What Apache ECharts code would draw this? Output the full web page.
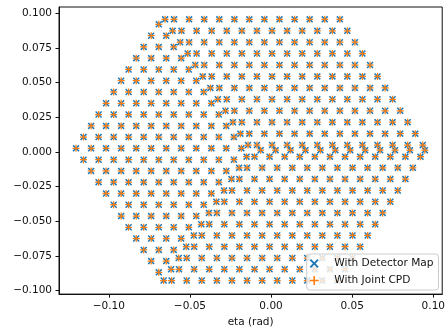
<!DOCTYPE html>
<html><head><meta charset="utf-8">
<script src="https://cdn.jsdelivr.net/npm/echarts@6/dist/echarts.min.js"></script>
<style>html,body{margin:0;padding:0;background:#fff}#c{width:448px;height:333px}</style>
</head><body><div id="c"></div>
<script>
const xTicks = [-0.10, -0.05, 0.00, 0.05, 0.10];
const yTicks = [-0.100, -0.075, -0.050, -0.025, 0.000, 0.025, 0.050, 0.075, 0.100];

// Upper sector (rows read top to bottom)
const upperY = [0.0957, 0.0874, 0.0792, 0.0710, 0.0627, 0.0545, 0.0462, 0.0380, 0.0297, 0.0215, 0.0132, 0.0050];
const upperX = [
 [-0.0598,-0.0505,-0.0412,-0.0319,-0.0226,-0.0134,-0.0041,0.0052,0.0145,0.0238,0.0331,0.0424],
 [-0.0552,-0.0459,-0.0366,-0.0273,-0.0180,-0.0087,0.0006,0.0099,0.0192,0.0285,0.0378,0.0470],
 [-0.0505,-0.0412,-0.0319,-0.0226,-0.0134,-0.0041,0.0052,0.0145,0.0238,0.0331,0.0424,0.0517],
 [-0.0459,-0.0366,-0.0273,-0.0180,-0.0087,0.0006,0.0099,0.0192,0.0285,0.0378,0.0470,0.0563],
 [-0.0412,-0.0319,-0.0226,-0.0134,-0.0041,0.0052,0.0145,0.0238,0.0331,0.0424,0.0517,0.0610],
 [-0.0366,-0.0273,-0.0180,-0.0087,0.0006,0.0099,0.0192,0.0285,0.0378,0.0470,0.0563,0.0656],
 [-0.0319,-0.0226,-0.0134,-0.0041,0.0052,0.0145,0.0238,0.0331,0.0424,0.0517,0.0610,0.0703],
 [-0.0273,-0.0180,-0.0087,0.0006,0.0099,0.0192,0.0285,0.0378,0.0470,0.0563,0.0656,0.0749],
 [-0.0226,-0.0134,-0.0041,0.0052,0.0145,0.0238,0.0331,0.0424,0.0517,0.0610,0.0703,0.0796],
 [-0.0180,-0.0087,0.0006,0.0099,0.0192,0.0285,0.0378,0.0470,0.0563,0.0656,0.0749,0.0842],
 [-0.0134,-0.0041,0.0052,0.0145,0.0238,0.0331,0.0424,0.0517,0.0610,0.0703,0.0796,0.0889],
 [-0.0087,0.0006,0.0099,0.0192,0.0285,0.0378,0.0470,0.0563,0.0656,0.0749,0.0842,0.0935]
];
// Extra points along the upper-left seam (one per upper row)
const seamUpperX = [-0.0653,-0.0607,-0.0560,-0.0514,-0.0467,-0.0421,-0.0374,-0.0328,-0.0281,-0.0235,-0.0189,-0.0142];

// Row lying on the horizontal seam
const seamMidY = [0.0013];
const seamMidX = [[-0.0064,0.0028,0.0120,0.0212,0.0304,0.0396,0.0488,0.0580,0.0672,0.0764,0.0856,0.0948]];

// Lower-right sector
const lowerY = [-0.0034,-0.0115,-0.0196,-0.0278,-0.0359,-0.0440,-0.0522,-0.0603,-0.0684,-0.0766,-0.0847,-0.0928];
const lowerX = [
 [-0.0102,-0.0009,0.0084,0.0177,0.0270,0.0363,0.0456,0.0549,0.0642,0.0735,0.0828,0.0921],
 [-0.0148,-0.0055,0.0038,0.0131,0.0223,0.0316,0.0409,0.0502,0.0595,0.0688,0.0781,0.0874],
 [-0.0195,-0.0102,-0.0009,0.0084,0.0177,0.0270,0.0363,0.0456,0.0549,0.0642,0.0735,0.0828],
 [-0.0241,-0.0148,-0.0055,0.0038,0.0131,0.0223,0.0316,0.0409,0.0502,0.0595,0.0688,0.0781],
 [-0.0288,-0.0195,-0.0102,-0.0009,0.0084,0.0177,0.0270,0.0363,0.0456,0.0549,0.0642,0.0735],
 [-0.0334,-0.0241,-0.0148,-0.0055,0.0038,0.0131,0.0223,0.0316,0.0409,0.0502,0.0595,0.0688],
 [-0.0381,-0.0288,-0.0195,-0.0102,-0.0009,0.0084,0.0177,0.0270,0.0363,0.0456,0.0549,0.0642],
 [-0.0427,-0.0334,-0.0241,-0.0148,-0.0055,0.0038,0.0131,0.0223,0.0316,0.0409,0.0502,0.0595],
 [-0.0474,-0.0381,-0.0288,-0.0195,-0.0102,-0.0009,0.0084,0.0177,0.0270,0.0363,0.0456,0.0549],
 [-0.0520,-0.0427,-0.0334,-0.0241,-0.0148,-0.0055,0.0038,0.0131,0.0223,0.0316,0.0409,0.0502],
 [-0.0567,-0.0474,-0.0381,-0.0288,-0.0195,-0.0102,-0.0009,0.0084,0.0177,0.0270,0.0363,0.0456],
 [-0.0613,-0.0520,-0.0427,-0.0334,-0.0241,-0.0148,-0.0055,0.0038,0.0131,0.0223,0.0316,0.0409]
];
// Extra points along the lower-left seam (one per lower row)
const seamLowerX = [-0.0151,-0.0197,-0.0244,-0.0290,-0.0337,-0.0383,-0.0430,-0.0476,-0.0523,-0.0569,-0.0616,-0.0662];

// Left sector
const leftY = [0.0921,0.0839,0.0758,0.0677,0.0595,0.0514,0.0433,0.0351,0.0270,0.0188,0.0107,0.0026,
 -0.0056,-0.0137,-0.0218,-0.0300,-0.0381,-0.0463,-0.0544,-0.0625,-0.0707,-0.0788,-0.0869];
const leftX = [
 [-0.0692],
 [-0.0739,-0.0646],
 [-0.0785,-0.0692,-0.0600],
 [-0.0831,-0.0739,-0.0646,-0.0554],
 [-0.0878,-0.0785,-0.0692,-0.0600,-0.0507],
 [-0.0924,-0.0831,-0.0739,-0.0646,-0.0554,-0.0461],
 [-0.0970,-0.0878,-0.0785,-0.0692,-0.0600,-0.0507,-0.0415],
 [-0.1017,-0.0924,-0.0831,-0.0739,-0.0646,-0.0554,-0.0461,-0.0368],
 [-0.1063,-0.0970,-0.0878,-0.0785,-0.0692,-0.0600,-0.0507,-0.0415,-0.0322],
 [-0.1109,-0.1017,-0.0924,-0.0831,-0.0739,-0.0646,-0.0554,-0.0461,-0.0368,-0.0276],
 [-0.1156,-0.1063,-0.0970,-0.0878,-0.0785,-0.0692,-0.0600,-0.0507,-0.0415,-0.0322,-0.0229],
 [-0.1202,-0.1109,-0.1017,-0.0924,-0.0831,-0.0739,-0.0646,-0.0554,-0.0461,-0.0368,-0.0276,-0.0183],
 [-0.1156,-0.1063,-0.0970,-0.0878,-0.0785,-0.0692,-0.0600,-0.0507,-0.0415,-0.0322,-0.0229],
 [-0.1109,-0.1017,-0.0924,-0.0831,-0.0739,-0.0646,-0.0554,-0.0461,-0.0368,-0.0276],
 [-0.1063,-0.0970,-0.0878,-0.0785,-0.0692,-0.0600,-0.0507,-0.0415,-0.0322],
 [-0.1017,-0.0924,-0.0831,-0.0739,-0.0646,-0.0554,-0.0461,-0.0368],
 [-0.0970,-0.0878,-0.0785,-0.0692,-0.0600,-0.0507,-0.0415],
 [-0.0924,-0.0831,-0.0739,-0.0646,-0.0554,-0.0461],
 [-0.0878,-0.0785,-0.0692,-0.0600,-0.0507],
 [-0.0831,-0.0739,-0.0646,-0.0554],
 [-0.0785,-0.0692,-0.0600],
 [-0.0739,-0.0646],
 [-0.0692]
];

function rowsToPoints(ys, xs) {
  const out = [];
  ys.forEach((y, i) => xs[i].forEach(x => out.push([x, y])));
  return out;
}
function columnToPoints(ys, xs) {
  return ys.map((y, i) => [xs[i], y]);
}
const points = [].concat(
  rowsToPoints(upperY, upperX),
  columnToPoints(upperY, seamUpperX),
  rowsToPoints(seamMidY, seamMidX),
  rowsToPoints(lowerY, lowerX),
  columnToPoints(lowerY, seamLowerX),
  rowsToPoints(leftY, leftX)
);

const X_PATH = 'path://M0,1.5L1.5,0L5,3.5L8.5,0L10,1.5L6.5,5L10,8.5L8.5,10L5,6.5L1.5,10L0,8.5L3.5,5Z';
const P_PATH = 'path://M4.1,0H5.9V4.1H10V5.9H5.9V10H4.1V5.9H0V4.1H4.1Z';

function fmt(v, d) {
  const s = Math.abs(v).toFixed(d);
  return (v < -1e-9 ? '\u2212' : '') + s;
}

const FS = 10.5;
const INK = '#111111';
const chart = echarts.init(document.getElementById('c'), null, {renderer: 'canvas'});
chart.setOption({
  animation: false,
  backgroundColor: '#fff',
  grid: {left: 59, right: 4, top: 7, bottom: 38, show: true, borderColor: INK, borderWidth: 1, backgroundColor: '#fff'},
  textStyle: {fontFamily: 'DejaVu Sans'},
  xAxis: {
    type: 'value', min: -0.1307, max: 0.1055,
    name: 'eta (rad)', nameLocation: 'middle', nameGap: 22,
    nameTextStyle: {fontFamily: 'DejaVu Sans', fontSize: FS, color: INK},
    axisLine: {show: true, onZero: false, lineStyle: {color: INK, width: 1}},
    axisTick: {show: true, inside: false, length: 3.5, lineStyle: {color: INK}, customValues: xTicks},
    axisLabel: {fontFamily: 'DejaVu Sans', fontSize: FS, color: INK, margin: 7, customValues: xTicks, formatter: v => fmt(v, 2)},
    splitLine: {show: false}
  },
  yAxis: {
    type: 'value', min: -0.1026, max: 0.1046,
    axisLine: {show: true, onZero: false, lineStyle: {color: INK, width: 1}},
    axisTick: {show: true, inside: false, length: 3.5, lineStyle: {color: INK}, customValues: yTicks},
    axisLabel: {fontFamily: 'DejaVu Sans', fontSize: FS, color: INK, margin: 7, customValues: yTicks, formatter: v => fmt(v, 3)},
    splitLine: {show: false}
  },
  legend: {
    orient: 'vertical', right: 9.5, bottom: 43,
    itemWidth: 20, itemHeight: 9, itemGap: 4,
    padding: [3, 5, 3, 3],
    backgroundColor: 'rgba(255,255,255,0.8)', borderColor: '#cccccc', borderWidth: 1, borderRadius: 3,
    textStyle: {fontFamily: 'DejaVu Sans', fontSize: 10.6, lineHeight: 13, color: INK, padding: [0, 0, 0, 5]},
    data: [
      {name: 'With Detector Map', icon: X_PATH, itemStyle: {color: '#1f77b4'}},
      {name: 'With Joint CPD', icon: P_PATH, itemStyle: {color: '#ff7f0e'}}
    ]
  },
  series: [
    {name: 'With Detector Map', type: 'scatter', symbol: X_PATH, symbolSize: 7, data: points,
     itemStyle: {color: '#1f77b4', opacity: 1}, z: 2},
    {name: 'With Joint CPD', type: 'scatter', symbol: P_PATH, symbolSize: 7, data: points,
     itemStyle: {color: '#ff7f0e', opacity: 1}, z: 3}
  ]
});
</script></body></html>
